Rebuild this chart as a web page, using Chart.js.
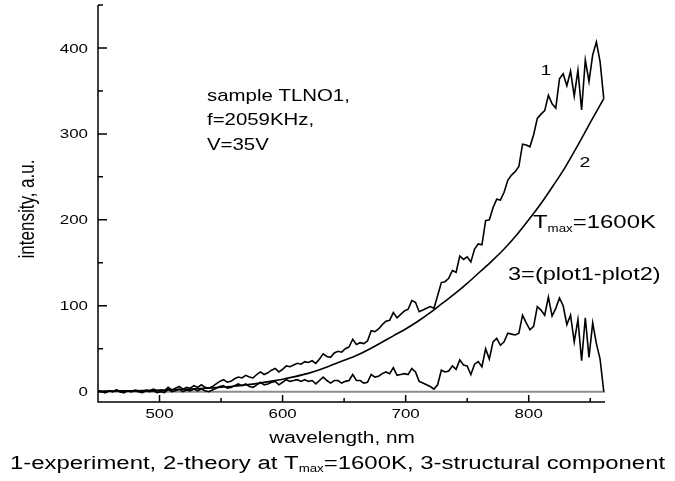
<!DOCTYPE html>
<html>
<head>
<meta charset="utf-8">
<script src="https://cdn.jsdelivr.net/npm/chart.js@4.4.1/dist/chart.umd.min.js"></script>
<style>
  body { margin: 0; background: #fff; }
  canvas { display: block; }
</style>
</head>
<body>
<canvas id="spectrum" width="675" height="481"></canvas>
<script>
// wavelength grid of the measured spectrum, nm
const wavelengths = [
  450,453,456,459,462,465,468,471,474,477,
  480,483,486,489,492,495,498,501,504,507,
  510,513,516,519,522,525,528,531,534,537,
  540,543,546,549,552,555,558,561,564,567,
  570,573,576,579,582,585,588,591,594,597,
  600,603,606,609,612,615,618,621,624,627,
  630,633,636,639,642,645,648,651,654,657,
  660,663,666,669,672,675,678,681,684,687,
  690,693,696,699,702,705,708,711,714,717,
  720,723,726,729,732,735,738,741,744,747,
  750,753,756,759,762,765,768,771,774,777,
  780,783,786,789,792,795,798,801,804,807,
  810,813,816,819,822,825,828,831,834,837,
  840,843,846,849,852,855,858,861
];

// curve 1 - experiment
const experiment = [
  1,0,-1,1,0,2,0,-1,1,0,
  2,1,0,2,1,3,1,2,1,5,
  2,4,6,3,5,4,7,5,8,5,
  4,6,9,12,14,11,12,15,17,16,
  19,17,16,20,23,20,22,25,27,23,
  26,30,29,31,33,32,35,34,36,33,
  38,44,41,40,45,47,46,50,52,61,
  55,57,56,59,71,70,73,78,82,83,
  92,86,90,94,96,106,104,93,95,97,
  99,97,112,127,128,132,141,139,158,154,
  157,151,166,172,171,199,200,214,224,223,
  232,246,252,256,262,288,287,285,299,318,
  323,327,345,335,330,364,370,356,373,344,
  374,328,386,361,392,407,384,341
];

// curve 3 - structural component
const structural = [
  1,0,-1,1,0,2,0,-1,1,0,
  1,0,-1,1,0,1,-1,0,-1,3,
  0,1,3,0,2,1,3,1,3,1,
  0,2,4,6,7,4,5,7,9,7,
  9,6,5,8,11,8,9,11,12,8,
  11,14,12,13,14,12,14,12,13,9,
  13,17,13,10,13,13,10,12,13,20,
  13,13,10,11,20,17,18,21,23,21,
  28,19,20,21,20,27,23,12,10,8,
  6,3,8,25,23,24,30,26,37,31,
  30,20,32,35,29,50,38,58,62,54,
  58,68,67,66,68,89,80,72,76,99,
  95,89,110,88,97,109,100,78,89,58,
  84,36,86,40,80,56,38,0
];

// curve 2 - theory at Tmax = 1600K
const theoryWavelengths = [
  450,460,470,480,490,500,510,520,530,540,
  550,560,570,580,590,600,610,620,630,640,
  650,660,670,680,690,700,710,720,730,740,
  750,760,770,780,790,800,810,820,830,840,
  850,861
];
const theory = [
  0.5,0.7,0.9,1.1,1.4,1.7,2.2,2.7,3.4,4.2,
  5.2,6.4,7.9,9.7,12,14.5,17.5,21,25.5,31,
  36.5,42,49,57,65,73,82,92,103,114,
  126,139,152,166,182,200,219,240,262,287,
  313,341
];

const xTicks = [500, 600, 700, 800];
const xMinorTicks = [550, 650, 750, 850];
const yTicks = [0, 100, 200, 300, 400];
const yMinorTicks = [50, 150, 250, 350, 450];

const FONT = '"Liberation Sans", Arial, Helvetica, sans-serif';
const STRETCH = 1.3; // text in the picture is drawn wide

function drawText(ctx, s, x, y, size, align, sx) {
  ctx.save();
  ctx.font = size + 'px ' + FONT;
  ctx.textAlign = align;
  ctx.textBaseline = 'alphabetic';
  ctx.fillStyle = '#000';
  ctx.translate(x, y);
  ctx.scale(sx, 1);
  ctx.fillText(s, 0, 0);
  ctx.restore();
}

// pieces: [text, size, baseline shift]
function drawRich(ctx, pieces, x, y, sx, center) {
  let total = 0;
  pieces.forEach(p => {
    ctx.font = p[1] + 'px ' + FONT;
    total += ctx.measureText(p[0]).width * sx;
  });
  let cx = center ? x - total / 2 : x;
  pieces.forEach(p => {
    ctx.font = p[1] + 'px ' + FONT;
    const w = ctx.measureText(p[0]).width * sx;
    drawText(ctx, p[0], cx, y + p[2], p[1], 'left', sx);
    cx += w;
  });
}

const axesPlugin = {
  id: 'axesPlugin',
  beforeDatasetsDraw(chart) {
    const ctx = chart.ctx;
    const a = chart.chartArea;
    const y0 = chart.scales.y.getPixelForValue(0);
    ctx.save();
    ctx.strokeStyle = '#8c8c8c';
    ctx.lineWidth = 2;
    ctx.beginPath();
    ctx.moveTo(a.left, y0);
    ctx.lineTo(a.right, y0);
    ctx.stroke();
    ctx.restore();
  },
  afterDatasetsDraw(chart) {
    const ctx = chart.ctx;
    const a = chart.chartArea;
    const xs = chart.scales.x;
    const ys = chart.scales.y;
    ctx.save();
    ctx.strokeStyle = '#000';
    ctx.lineWidth = 1.5;
    ctx.beginPath();
    ctx.moveTo(a.left, a.top);
    ctx.lineTo(a.left, a.bottom);
    ctx.lineTo(a.right, a.bottom);
    // ticks point inwards
    yTicks.forEach(v => { const p = ys.getPixelForValue(v); ctx.moveTo(a.left, p); ctx.lineTo(a.left + 9, p); });
    yMinorTicks.forEach(v => { const p = ys.getPixelForValue(v); ctx.moveTo(a.left, p); ctx.lineTo(a.left + 5, p); });
    xTicks.forEach(v => { const p = xs.getPixelForValue(v); ctx.moveTo(p, a.bottom); ctx.lineTo(p, a.bottom - 7); });
    xMinorTicks.forEach(v => { const p = xs.getPixelForValue(v); ctx.moveTo(p, a.bottom); ctx.lineTo(p, a.bottom - 4); });
    ctx.stroke();
    ctx.restore();

    yTicks.forEach(v => drawText(ctx, String(v), a.left - 10, ys.getPixelForValue(v) + 4.6, 13, 'right', STRETCH));
    xTicks.forEach(v => drawText(ctx, String(v), xs.getPixelForValue(v), a.bottom + 15.5, 13, 'center', STRETCH));

    // axis titles
    drawText(ctx, 'wavelength, nm', 342, 443, 16, 'center', STRETCH);
    ctx.save();
    ctx.translate(28, 209);
    ctx.rotate(-Math.PI / 2);
    ctx.scale(1, STRETCH);
    ctx.font = '17px ' + FONT;
    ctx.textAlign = 'center';
    ctx.textBaseline = 'middle';
    ctx.fillStyle = '#000';
    ctx.fillText('intensity, a.u.', 0, 0);
    ctx.restore();

    drawRich(ctx, [
      ['1-experiment, 2-theory at T', 18, 0],
      ['max', 10, 3],
      ['=1600K, 3-structural component', 18, 0]
    ], 337.5, 469, 1.33, true);

    // annotations
    drawText(ctx, 'sample TLNO1,', 207, 101, 17, 'left', 1.2);
    drawText(ctx, 'f=2059KHz,', 207, 125, 17, 'left', 1.2);
    drawText(ctx, 'V=35V', 207, 150, 17, 'left', 1.2);
    drawText(ctx, '1', 546, 75, 15, 'center', STRETCH);
    drawText(ctx, '2', 585, 167, 15, 'center', STRETCH);
    drawRich(ctx, [['T', 18, 0], ['max', 10, 3.5], ['=1600K', 18, 0]], 533, 228, 1.33, false);
    drawText(ctx, '3=(plot1-plot2)', 508, 280, 18, 'left', 1.31);
  }
};

function points(xs, ys) {
  return xs.map((x, i) => ({ x: x, y: ys[i] }));
}

const lineStyle = { borderColor: '#000', borderWidth: 1.6, pointRadius: 0, fill: false };

new Chart(document.getElementById('spectrum').getContext('2d'), {
  type: 'line',
  data: {
    datasets: [
      Object.assign({ label: '1', data: points(wavelengths, experiment), tension: 0 }, lineStyle),
      Object.assign({ label: '2', data: points(theoryWavelengths, theory), cubicInterpolationMode: 'monotone' }, lineStyle),
      Object.assign({ label: '3', data: points(wavelengths, structural), tension: 0 }, lineStyle)
    ]
  },
  options: {
    responsive: false,
    animation: false,
    devicePixelRatio: 1,
    layout: { padding: { left: 98, right: 70, top: 5, bottom: 79 } },
    plugins: { legend: { display: false }, tooltip: { enabled: false } },
    scales: {
      x: { type: 'linear', min: 450, max: 862, display: false },
      y: { type: 'linear', min: -12, max: 450, display: false }
    }
  },
  plugins: [axesPlugin]
});
</script>
</body>
</html>
